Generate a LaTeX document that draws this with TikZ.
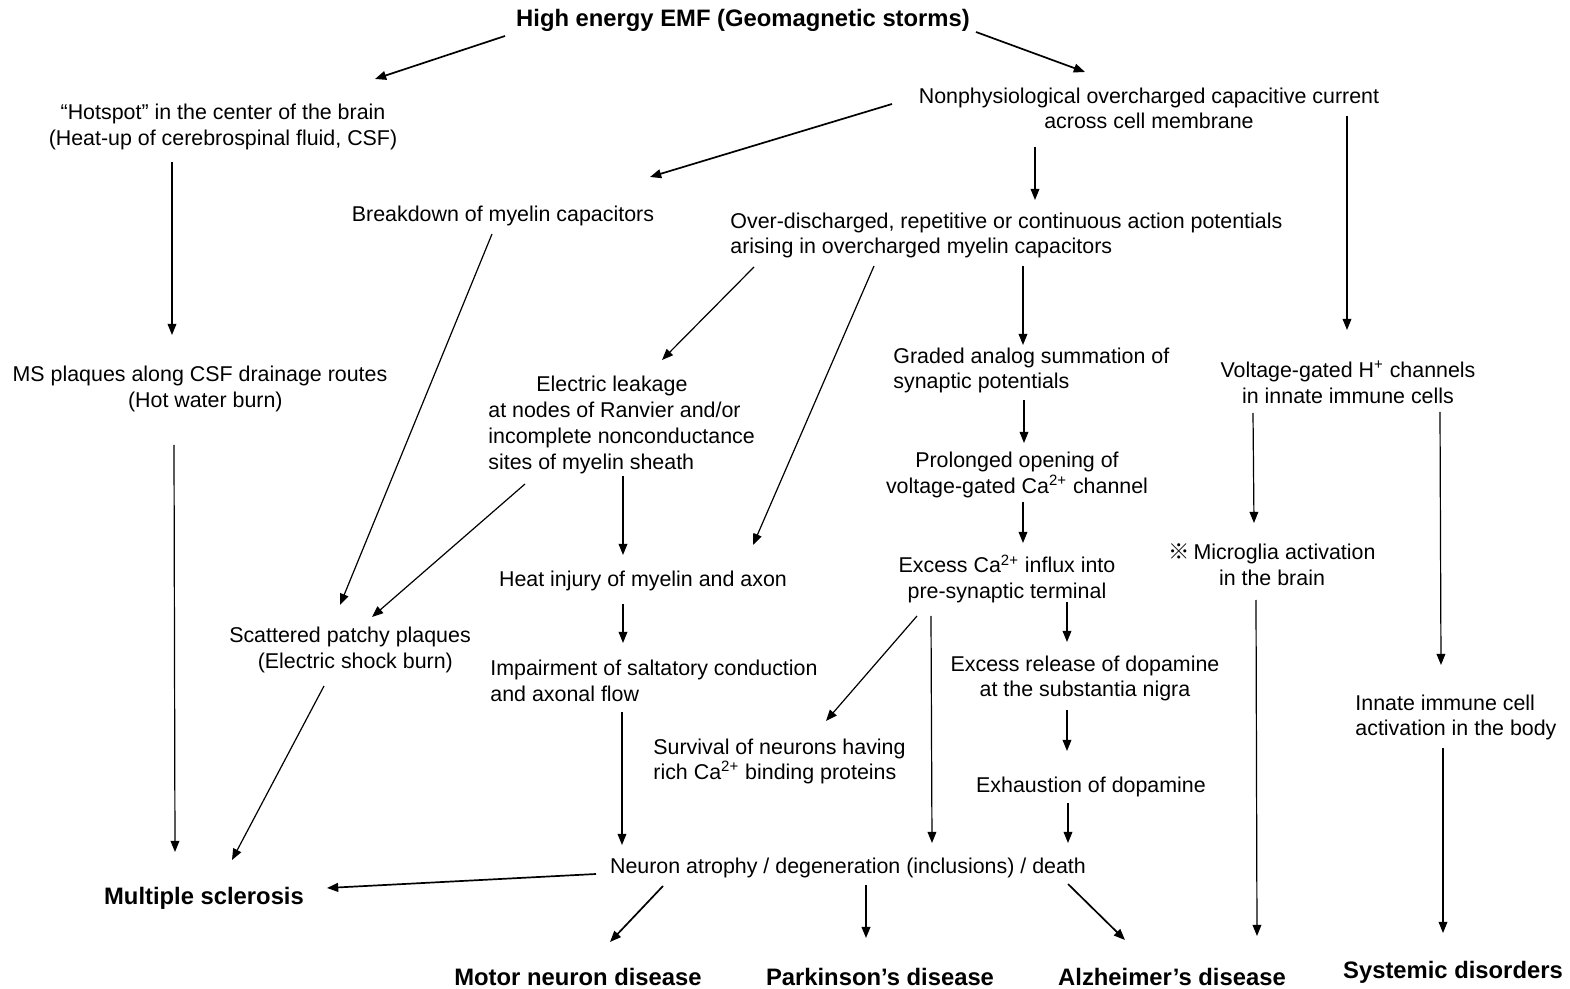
\documentclass[tikz,border=0pt]{standalone}
\usepackage{fontspec}
\setmainfont{Liberation Sans}
\newfontfamily\cjkjp{Noto Sans CJK JP}
\usetikzlibrary{arrows.meta}
\newcommand\arw[5][]{\draw[arr,#1] ([yshift=1.2pt,shift={#3}]#2) -- ([yshift=1.2pt,shift={#5}]#4);}
\begin{document}
\begin{tikzpicture}[x=0.5pt,y=-0.5pt,
  every node/.style={inner sep=0pt,yshift=-1.2pt,font=\fontsize{10.7}{12.9}\selectfont},
  lbl/.style={align=center},
  lbll/.style={align=left,anchor=west},
  bold/.style={font=\bfseries\fontsize{11.9}{14}\selectfont},
  arr/.style={-{Triangle[length=5.6pt,width=4.4pt]},line width=0.6pt},
  thk/.style={line width=0.85pt}]
\fill[white] (0,0) rectangle (1570,989);
\useasboundingbox (0,0) rectangle (1570,989);
% nodes
\node[bold] (title) at (743,18) {High energy EMF (Geomagnetic storms)};
\node[lbl] (hot) at (223,124.5) {“Hotspot” in the center of the brain\\(Heat-up of cerebrospinal fluid, CSF)};
\node[lbl] (nonphys) at (1149,106) {Nonphysiological overcharged capacitive current\\across cell membrane};
\node (brk) at (503,214) {Breakdown of myelin capacitors};
\node[lbll] (over) at (730,233) {Over-discharged, repetitive or continuous action potentials\\arising in overcharged myelin capacitors};
\node[lbl] (msp) at (200,386.5) {MS plaques along CSF drainage routes\\\hspace*{0.5em}(Hot water burn)};
\node[lbll] (leak) at (488,422.5) {\hspace*{24pt}Electric leakage\\at nodes of Ranvier and/or\\incomplete nonconductance\\sites of myelin sheath};
\node (heat) at (643,579) {Heat injury of myelin and axon};
\node[lbll] (imp) at (490,678.5) {Impairment of saltatory conduction\\and axonal flow};
\node[lbl] (scat) at (350,647.5) {Scattered patchy plaques\\\hspace*{0.5em}(Electric shock burn)};
\node[lbll] (grad) at (893,368) {Graded analog summation of\\synaptic potentials};
\node[lbl] (prol) at (1017,472.5) {Prolonged opening of\\voltage-gated Ca\textsuperscript{2+} channel};
\node[lbl] (exca) at (1007,576.5) {Excess Ca\textsuperscript{2+} influx into\\pre-synaptic terminal};
\node[lbl] (vgh) at (1348,380) {Voltage-gated H\textsuperscript{+} channels\\in innate immune cells};
\node[lbl] (micro) at (1272,562.5) {{\cjkjp ※}\,Microglia activation\\in the brain};
\node[lbl] (rel) at (1085,676) {Excess release of dopamine\\at the substantia nigra};
\node[lbll] (surv) at (653,759) {Survival of neurons having\\rich Ca\textsuperscript{2+} binding proteins};
\node (exh) at (1091,785) {Exhaustion of dopamine};
\node[lbll] (innate) at (1355,715) {Innate immune cell\\activation in the body};
\node (neur) at (848,866) {Neuron atrophy / degeneration (inclusions) / death};
\node[bold] (ms) at (204,896) {Multiple sclerosis};
\node[bold] (mnd) at (578,975) {Motor neuron disease};
\node[bold] (park) at (880,975) {Parkinson’s disease};
\node[bold] (alz) at (1172,975) {Alzheimer’s disease};
\node[bold] (sys) at (1453,970) {Systemic disorders};
% connectors
\arw[thk]{title.center}{(-238,18)}{hot.center}{(152,-45.5)}
\arw[thk]{title.center}{(233,14)}{nonphys.center}{(-64,-34)}
\arw[thk]{nonphys.center}{(-257,-2)}{brk.center}{(147,-37)}
\arw{nonphys.center}{(-114,41)}{over.west}{(305,-33)}
\arw{nonphys.center}{(198,10)}{vgh.center}{(-1,-50)}
\arw{hot.center}{(-51,37.5)}{msp.center}{(-28,-51.5)}
\arw{brk.center}{(-11,20)}{scat.center}{(-10,-42.5)}
\arw{over.west}{(24,34)}{leak.west}{(174,-62.5)}
\arw{over.west}{(144,33)}{heat.center}{(110,-34)}
\arw{over.west}{(293,33)}{grad.west}{(130,-23)}
\arw{msp.center}{(-26,58.5)}{ms.center}{(-29,-44)}
\arw{leak.west}{(37,61.5)}{scat.center}{(22,-30.5)}
\arw{leak.west}{(135,53.5)}{heat.center}{(-20,-24)}
\arw{heat.center}{(-20,25)}{imp.west}{(133,-35.5)}
\arw{grad.west}{(131,32)}{prol.center}{(7,-29.5)}
\arw{prol.center}{(6,29.5)}{exca.center}{(16,-33.5)}
\arw{vgh.center}{(-95,33)}{micro.center}{(-18,-39.5)}
\arw{vgh.center}{(92,32)}{innate.west}{(86,-50)}
\arw{scat.center}{(-26,38.5)}{ms.center}{(28,-36)}
\arw{imp.west}{(132,33.5)}{neur.center}{(-226,-21)}
\arw{exca.center}{(-90,39.5)}{surv.west}{(173,-38)}
\arw{exca.center}{(-76,39.5)}{neur.center}{(84,-23)}
\arw{exca.center}{(60,25.5)}{rel.center}{(-18,-34)}
\arw{rel.center}{(-18,34)}{exh.center}{(-24,-34)}
\arw{exh.center}{(-23,18)}{neur.center}{(220,-23)}
\arw{micro.center}{(-16,37.5)}{alz.center}{(85,-39)}
\arw{innate.west}{(88,33)}{sys.center}{(-10,-37)}
\arw[thk]{neur.center}{(-252,8)}{ms.center}{(123,-8)}
\arw[thk]{neur.center}{(-185,20)}{mnd.center}{(32,-33)}
\arw[thk]{neur.center}{(18,19)}{park.center}{(-14,-37)}
\arw[thk]{neur.center}{(220,18)}{alz.center}{(-47,-35)}
\end{tikzpicture}
\end{document}
